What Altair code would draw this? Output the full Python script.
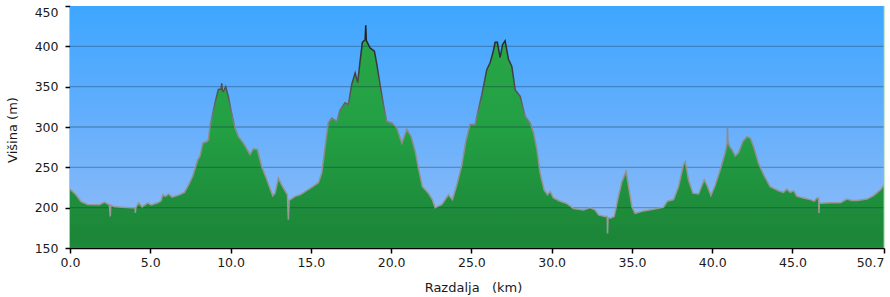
import altair as alt
import pandas as pd

km = [0.0, 0.37, 0.69, 1.10, 1.83, 2.14, 2.45, 2.51, 2.54, 2.76, 3.28, 3.80, 4.05, 4.07, 4.10,
      4.28, 4.49, 4.84, 5.05, 5.46, 5.67, 5.78, 5.94, 6.15, 6.36, 6.81, 7.12, 7.33, 7.64, 7.96,
      8.10, 8.27, 8.52, 8.62, 8.72, 9.03, 9.24, 9.41, 9.45, 9.49, 9.55, 9.70, 9.86, 10.07, 10.28,
      10.49, 10.80, 11.21, 11.42, 11.67, 11.94, 12.26, 12.63, 12.77, 12.98, 13.19, 13.54, 13.60,
      13.65, 14.02, 14.33, 14.95, 15.47, 15.68, 15.89, 16.09, 16.30, 16.62, 16.82, 17.13, 17.34,
      17.55, 17.76, 17.92, 18.07, 18.21, 18.38, 18.42, 18.46, 18.69, 18.96, 19.11, 19.31, 19.52,
      19.73, 20.04, 20.35, 20.67, 20.98, 21.25, 21.50, 21.70, 21.95, 22.32, 22.57, 22.74, 23.16,
      23.57, 23.82, 24.09, 24.41, 24.65, 24.92, 25.23, 25.44, 25.65, 25.96, 26.17, 26.34, 26.48,
      26.62, 26.79, 26.94, 27.10, 27.31, 27.52, 27.73, 28.04, 28.35, 28.66, 28.87, 29.08, 29.28,
      29.53, 29.74, 29.91, 30.11, 30.53, 30.95, 31.36, 31.98, 32.40, 32.71, 32.92, 33.33, 33.46,
      33.48, 33.51, 33.64, 33.89, 34.16, 34.37, 34.64, 34.79, 35.00, 35.20, 35.72, 36.34, 36.97,
      37.21, 37.59, 37.90, 38.21, 38.32, 38.52, 38.80, 39.15, 39.50, 39.67, 39.92, 40.19, 40.50,
      40.81, 40.93, 40.95, 40.98, 41.08, 41.23, 41.43, 41.64, 41.91, 42.16, 42.37, 42.57, 42.88,
      43.20, 43.61, 44.13, 44.44, 44.65, 44.86, 45.07, 45.28, 45.69, 46.11, 46.36, 46.52, 46.63,
      46.65, 46.67, 46.73, 47.35, 47.98, 48.39, 48.70, 49.02, 49.64, 50.05, 50.47, 50.70]
elev = [223, 216, 207.6, 204, 203.5, 207, 203.5, 189, 203, 201, 200.6, 200, 200, 193.5, 200,
        206, 201, 206, 203.5, 206, 208.5, 216, 214, 217, 213, 216, 219, 226, 239, 259.5,
        264, 280, 282, 284, 301, 330, 346.6, 347, 354, 345, 344, 350, 338, 317, 299,
        288, 280, 266, 273, 272, 251, 234.6, 214.7, 218, 236.7, 228, 216, 185,
        209, 214, 216, 224, 231, 243, 276, 305, 311, 307, 321, 330, 328,
        353, 367, 355, 382, 405, 408, 426, 407, 398, 394, 378, 353, 328,
        307, 305, 299, 280, 297, 288, 270, 249, 226, 218, 210, 200, 204,
        216, 210, 228, 253, 282, 303, 303, 322, 340, 371, 380, 392, 405,
        405, 386, 402, 407, 384, 375, 346, 338, 313, 305, 293, 272, 243,
        222, 216, 220, 212, 208, 205, 199, 197, 200, 197, 191, 189, 189,
        168, 188, 187, 189, 214, 232, 245, 226, 201, 193, 196, 198, 200.6,
        208, 210, 226, 253, 257, 234.6, 218, 217, 234.6, 228, 215, 228, 247,
        268, 280, 301, 282, 276, 272, 264, 268, 282, 288, 286, 276, 255,
        241, 226, 221, 219, 223, 219, 221, 214, 212, 210, 208, 212, 212,
        193.5, 206, 205.6, 206, 206, 210.6, 209, 209, 210.6, 215, 222, 228]

x_ticks = [0, 5, 10, 15, 20, 25, 30, 35, 40, 45, 50.7]
y_ticks = [150, 200, 250, 300, 350, 400, 450]
grid_levels = [200, 250, 300, 350, 400]

W, H = 814, 242
FONT = "DejaVu Sans"

df = pd.DataFrame({"km": km, "elev": elev})
grid_df = pd.DataFrame({"km": [0] * len(grid_levels), "elev": grid_levels})
one = pd.DataFrame({"a": [0]})

xscale = alt.Scale(domain=[0, 50.7], nice=False, zero=False)
yscale = alt.Scale(domain=[150, 450], nice=False, zero=False)

x_axis = alt.Axis(
    values=x_ticks, format=".1f", grid=False,
    title="Razdalja\u00a0\u00a0\u00a0(km)", titleX=403, titleY=39,
    titleBaseline="middle", titleAlign="center",
    titleFont=FONT, titleFontSize=13, titleFontWeight="normal", titleColor="#1a1a1a",
    labelFont=FONT, labelFontSize=12.5, labelColor="#1a1a1a", labelPadding=3,
    labelFlush=False,
    labelAlign={"condition": {"test": "datum.value > 50", "value": "right"}, "value": "center"},
    tickSize=5, tickColor="#000000", tickWidth=1.5,
    domainColor="#000000", domainWidth=1.5)
y_axis = alt.Axis(
    values=y_ticks, grid=False,
    title="Višina (m)", titleX=-57.5, titleY=123.5, titleAngle=270,
    titleBaseline="middle", titleAlign="center",
    titleFont=FONT, titleFontSize=13, titleFontWeight="normal", titleColor="#1a1a1a",
    labelFont=FONT, labelFontSize=12.5, labelColor="#1a1a1a", labelPadding=7,
    labelBaseline={"condition": {"test": "datum.value >= 450", "value": "top"}, "value": "middle"},
    tickSize=5, tickColor="#000000", tickWidth=1.5,
    domainColor="#000000", domainWidth=1.5)

bg = alt.Chart(one).mark_rect(
    color=alt.LinearGradient(
        gradient="linear", x1=0, x2=0, y1=0, y2=1,
        stops=[alt.GradientStop(color="#3ea6ff", offset=0),
               alt.GradientStop(color="#62aefc", offset=0.45),
               alt.GradientStop(color="#94bdf7", offset=1)])
).encode(x=alt.value(0), x2=alt.value(W), y=alt.value(0), y2=alt.value(H))

area = alt.Chart(df).mark_area(
    clip=True,
    color=alt.LinearGradient(
        gradient="linear", x1=0, x2=0, y1=0, y2=1,
        stops=[alt.GradientStop(color="#29a646", offset=0),
               alt.GradientStop(color="#23a044", offset=0.3),
               alt.GradientStop(color="#1c8538", offset=0.62),
               alt.GradientStop(color="#23ad49", offset=0.80),
               alt.GradientStop(color="#1b7a35", offset=1)])
).encode(
    x=alt.X("km:Q", scale=xscale, axis=x_axis),
    y=alt.Y("elev:Q", scale=yscale, axis=y_axis),
)

grid = alt.Chart(grid_df).mark_rule(color="#102840", opacity=0.3, strokeWidth=1.3).encode(
    y=alt.Y("elev:Q", scale=yscale, axis=y_axis),
    x=alt.value(0), x2=alt.value(W),
)

line = alt.Chart(df).mark_line(
    clip=True, strokeWidth=1.5,
    color=alt.LinearGradient(
        gradient="linear", x1=0, x2=0, y1=0, y2=1,
        stops=[alt.GradientStop(color="#1e1e1e", offset=0),
               alt.GradientStop(color="#3a3a3a", offset=0.2),
               alt.GradientStop(color="#5a5a5a", offset=0.35),
               alt.GradientStop(color="#8a8a8a", offset=0.5),
               alt.GradientStop(color="#9c9c9c", offset=1)])
).encode(
    x=alt.X("km:Q", scale=xscale, axis=x_axis),
    y=alt.Y("elev:Q", scale=yscale, axis=y_axis),
)

edge = alt.Chart(one).mark_rule(color="#86d596", strokeWidth=1).encode(
    x=alt.value(W), y=alt.value(0), y2=alt.value(H)
)

chart = alt.layer(bg, area, grid, line, edge).properties(
    width=W, height=H,
    autosize=alt.AutoSizeParams(type="none"),
    padding={"left": 70, "top": 6, "right": 6, "bottom": 49},
    background="#ffffff",
).configure_view(stroke=None)

chart.save("out.html", embed_options={"renderer": "svg", "actions": False})
